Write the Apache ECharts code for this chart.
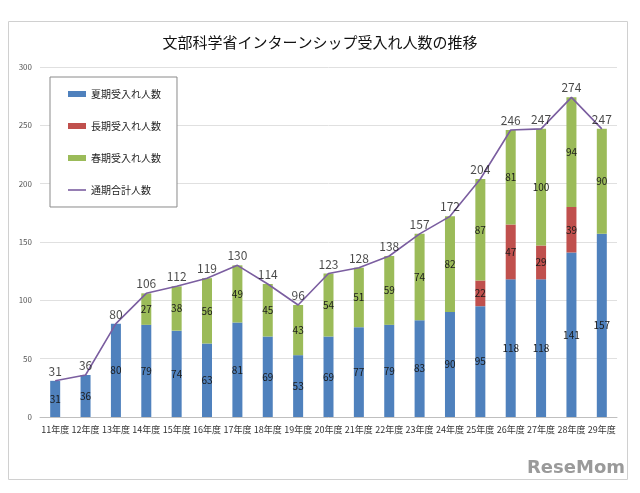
<!DOCTYPE html>
<html><head><meta charset="utf-8">
<script src="https://cdn.jsdelivr.net/npm/echarts@6/dist/echarts.min.js"></script>
<style>html,body{margin:0;padding:0;background:#fff}#c{width:640px;height:493px}</style>
</head><body><div id="c"></div>
<script>
const categories = ['11年度','12年度','13年度','14年度','15年度','16年度','17年度','18年度','19年度','20年度','21年度','22年度','23年度','24年度','25年度','26年度','27年度','28年度','29年度'];
const summer = [31,36,80,79,74,63,81,69,53,69,77,79,83,90,95,118,118,141,157];
const longTerm = [null,null,null,null,null,null,null,null,null,null,null,null,null,null,22,47,29,39,null];
const spring = [null,null,null,27,38,56,49,45,43,54,51,59,74,82,87,81,100,94,90];
const total = [31,36,80,106,112,119,130,114,96,123,128,138,157,172,204,246,247,274,247];
const yTicks = [0,50,100,150,200,250,300];

const font = '"Noto Sans CJK JP", "Noto Sans", sans-serif';
const chart = echarts.init(document.getElementById('c'));
const inLabel = {show:true, position:'inside', color:'#1a1a1a', fontSize:10, fontFamily:font,
  formatter:p => (p.value==null ? '' : p.value)};
chart.setOption({
  animation:false,
  title:{text:'文部科学省インターンシップ受入れ人数の推移', left:'center', top:30,
    textStyle:{fontSize:15, fontWeight:'normal', color:'#111', fontFamily:font}},
  graphic:[
    {type:'rect', shape:{x:8.5,y:21.5,width:619,height:458}, style:{fill:'none', stroke:'#d0d0d0', lineWidth:1}, z:-1},
    {type:'text', right:15, bottom:16, style:{text:'ReseMom', fill:'#9a9a9a', font:'bold 18px "DejaVu Sans", sans-serif'}}
  ],
  legend:{orient:'vertical', left:50, top:77, itemGap:22, itemWidth:18, itemHeight:6,
    padding:[12,16,12,18], borderColor:'#8a8a8a', borderWidth:1, backgroundColor:'#fff',
    textStyle:{fontSize:10, color:'#222', fontFamily:font},
    data:[{name:'夏期受入れ人数', icon:'rect'},{name:'長期受入れ人数', icon:'rect'},{name:'春期受入れ人数', icon:'rect'},
      {name:'通期合計人数', icon:'path://M0,0L18,0L18,1.6L0,1.6Z'}]},
  grid:{left:40, right:23, top:67, bottom:76},
  xAxis:{type:'category', data:categories,
    axisLine:{lineStyle:{color:'#bfbfbf'}}, axisTick:{show:false},
    axisLabel:{fontSize:9, color:'#333', fontFamily:font, interval:0, margin:8}},
  yAxis:{type:'value', min:0, max:300, interval:50,
    axisLine:{show:false}, axisTick:{show:false},
    splitLine:{lineStyle:{color:'#e0e0e0'}},
    axisLabel:{fontSize:8, color:'#555', fontFamily:font, margin:8}},
  series:[
    {name:'夏期受入れ人数', type:'bar', stack:'s', data:summer, barWidth:10, itemStyle:{color:'#4F81BD'}, label:inLabel},
    {name:'長期受入れ人数', type:'bar', stack:'s', data:longTerm, barWidth:10, itemStyle:{color:'#C0504D'}, label:inLabel},
    {name:'春期受入れ人数', type:'bar', stack:'s', data:spring, barWidth:10, itemStyle:{color:'#9BBB59'}, label:inLabel},
    {name:'通期合計人数', type:'line', data:total, symbol:'none', lineStyle:{color:'#7B5EA0', width:1.6},
      itemStyle:{color:'#7B5EA0'}},
    {name:'合計ラベル', type:'scatter', data:total, symbolSize:1, itemStyle:{color:'rgba(0,0,0,0)'},
      label:{show:true, position:'top', distance:3, fontSize:12, color:'#1a1a1a', fontFamily:font}, z:5}
  ]
});
</script></body></html>
